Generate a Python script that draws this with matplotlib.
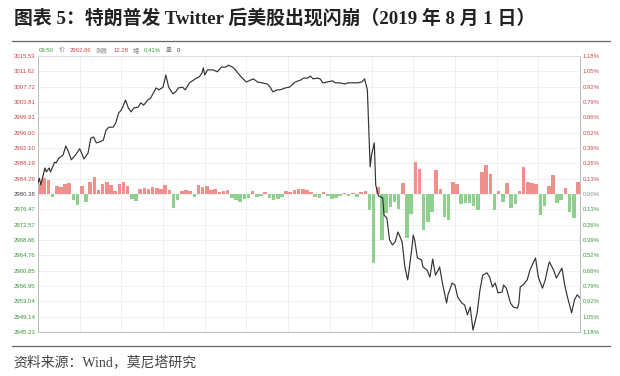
import matplotlib.pyplot as plt

plt.rcParams['font.family'] = ['Noto Sans CJK SC', 'DejaVu Sans']

title = '图表 5：特朗普发 Twitter 后美股出现闪崩（2019 年 8 月 1 日）'
source = '资料来源：Wind，莫尼塔研究'

prev_close = 2980.38
y_ticks = [3015.53, 3011.62, 3007.72, 3003.81, 2999.91, 2996.00, 2992.10, 2988.19,
           2984.29, 2980.38, 2976.47, 2972.57, 2968.66, 2964.76, 2960.85, 2956.95,
           2953.04, 2949.14, 2945.23]
pct_labels = ['1.18%', '1.05%', '0.92%', '0.79%', '0.66%', '0.52%', '0.39%', '0.26%',
              '0.13%', '0.00%', '0.13%', '0.26%', '0.39%', '0.52%', '0.66%', '0.79%',
              '0.92%', '1.05%', '1.18%']

# header: (text, colour)
header = [('09:50', '#3c963c'), ('价', '#888888'), ('2992.66', '#c84848'),
          ('涨跌', '#888888'), ('12.28', '#c84848'), ('幅', '#888888'),
          ('0.41%', '#3c963c'), ('量', '#888888'), ('0', '#333333')]

# minutes after 09:30 and index level
minutes = [0, 1, 2, 5, 6, 8, 9, 12, 13, 15, 18, 20, 22, 24, 27, 30, 32, 33, 36, 38,
           40, 42, 44, 47, 49, 51, 54, 56, 58, 60, 63, 65, 67, 69, 72, 74, 76, 79, 81, 83,
           85, 87, 90, 92, 94, 97, 99, 101, 104, 106, 109, 112, 114, 116, 118, 119, 120, 122, 126, 129,
           132, 135, 137, 140, 142, 145, 147, 150, 153, 155, 158, 161, 165, 167, 169, 172, 174, 178, 181, 185,
           189, 191, 194, 196, 198, 201, 203, 205, 208, 212, 214, 217, 221, 223, 227, 230, 233, 235, 237, 238,
           239, 240, 242, 243, 245, 248, 249, 251, 253, 255, 257, 259, 260, 262, 264, 266, 267, 269, 270, 271,
           273, 276, 277, 280, 282, 284, 286, 288, 289, 291, 294, 295, 298, 300, 302, 305, 307, 309, 311, 313,
           316, 318, 320, 323, 325, 327, 329, 331, 334, 335, 337, 340, 342, 345, 346, 347, 349, 352, 354, 355,
           358, 360, 363, 365, 367, 368, 371, 373, 377, 379, 381, 384, 386, 388, 390]
prices = [2983.2, 2984.4, 2982.7, 2987.0, 2986.0, 2987.0, 2986.0, 2988.5, 2988.3, 2989.5,
          2990.3, 2992.6, 2991.1, 2989.1, 2990.3, 2991.9, 2990.3, 2989.3, 2990.8, 2994.6,
          2994.9, 2993.4, 2993.6, 2994.1, 2996.7, 2997.4, 2997.4, 2998.5, 3001.0, 3001.8,
          3004.3, 3002.3, 3001.3, 3002.3, 3002.5, 3003.6, 3003.0, 3004.3, 3004.8, 3006.1,
          3007.4, 3006.9, 3007.6, 3010.7, 3007.6, 3005.9, 3006.4, 3007.4, 3007.6, 3006.9,
          3008.7, 3009.4, 3009.9, 3010.2, 3011.2, 3012.5, 3010.7, 3012.0, 3012.0, 3011.5,
          3012.7, 3012.7, 3013.2, 3012.7, 3012.0, 3010.7, 3009.9, 3008.9, 3009.4, 3009.7,
          3008.9, 3008.7, 3008.4, 3007.6, 3006.4, 3006.9, 3006.9, 3007.4, 3007.6, 3008.9,
          3009.4, 3009.9, 3009.9, 3010.4, 3009.7, 3009.9, 3009.7, 3008.7, 3008.9, 3009.2,
          3008.7, 3008.7, 3008.4, 3008.7, 3008.7, 3008.7, 3008.9, 3009.7, 3006.9, 2996.7,
          2987.3, 2990.3, 2993.4, 2982.7, 2979.9, 2979.4, 2975.0, 2974.3, 2968.7, 2967.4,
          2968.2, 2970.7, 2969.9, 2968.2, 2961.8, 2958.5, 2961.0, 2966.6, 2969.9, 2968.7,
          2964.1, 2963.6, 2961.8, 2961.0, 2959.2, 2963.8, 2959.7, 2961.0, 2961.8, 2957.7,
          2952.6, 2954.7, 2957.7, 2957.2, 2954.1, 2952.6, 2952.1, 2949.6, 2951.6, 2945.7,
          2950.1, 2955.9, 2959.7, 2960.3, 2959.2, 2956.7, 2957.7, 2955.2, 2955.4, 2957.2,
          2956.4, 2952.6, 2951.6, 2951.3, 2952.6, 2956.7, 2957.2, 2958.5, 2961.0, 2961.8,
          2964.1, 2959.2, 2956.4, 2958.5, 2961.8, 2963.1, 2961.0, 2959.0, 2961.5, 2957.2,
          2954.1, 2950.1, 2953.4, 2954.7, 2953.9]

# bars every 3 minutes, index points above/below previous close
bar_minutes = 3
bar_vals = [2.6, 4.1, 3.6, -0.8, 2.0, 1.8, 2.6, 2.8, -1.5, -2.8, 2.0, -2.0, 3.1, 4.3, 1.0,
            2.6, 3.1, 2.3, 0.8, 2.6, 3.1, 2.0, -1.3, -1.8, 1.3, 1.5, 1.3, 1.8, 1.5, 1.3,
            2.3, 1.0, -3.6, -1.5, 0.8, 1.0, 0.8, -0.8, 2.3,
            1.8, 2.0, 1.0, 1.3, 0.5, 0.8, 1.0, -1.0, -1.5, -2.0, -1.3, -1.0, 0.8, -0.8, -0.5,
            0.5, -1.0, -1.5, -1.3, -0.8, 0.8, 0.5, 1.0, 1.3, 1.3, 1.0, 0.5, -0.8, -1.0, 0.5,
            -0.5, -1.3, -1.0, -0.5, 0.3, -0.5, 0.3, -0.8, 0.5, 0.8,
            -4.1, -17.6, 1.8, -11.7, -4.8, -3.3, -2.0, -3.8, 2.8, -11.2, -5.1, 8.2, 6.4, -9.2,
            -7.1, -4.6, 6.1, 1.3, -5.9, -6.6, 3.1, 2.6, -2.6, -2.3, -2.3, -3.1, -4.1, 5.6,
            7.4, 5.1, -4.1, 0.8, -2.0, 2.8, -3.6, -2.6, 0.8, 6.9, 3.1, 2.8, 2.6, -5.4, -3.1,
            2.0, 4.8, -2.3, -1.5, 1.5, -4.6, -6.1, 3.1]

red_lbl = '#c84848'
green_lbl = '#3c963c'
mixed = ['Liberation Sans', 'Noto Sans CJK SC']

fig = plt.figure(figsize=(6.2, 3.76), dpi=100)
ax = fig.add_axes([38 / 620, 44 / 376, 542 / 620, 276 / 376])

bar_x = [bar_minutes * i + bar_minutes / 2 for i in range(len(bar_vals))]
bar_col = ['#f0908c' if v > 0 else '#8fd08f' for v in bar_vals]
ax.bar(bar_x, bar_vals, width=bar_minutes * 0.85, bottom=prev_close, color=bar_col, lw=0, zorder=2)
ax.plot(minutes, prices, color='#333333', lw=0.85, zorder=3)

ax.set_xlim(0, 390)
ax.set_ylim(y_ticks[-1], y_ticks[0])
ax.set_xticks(range(30, 390, 30))
ax.set_xticklabels([])
ax.set_yticks(y_ticks)
ax.set_yticklabels(['%.2f' % v for v in y_ticks], family='Liberation Sans', fontsize=4.3)
ax.tick_params(length=0, pad=2)
ax.grid(True, color='#eeeeee', lw=0.6, zorder=0)
for lbl, v in zip(ax.get_yticklabels(), y_ticks):
    lbl.set_color(red_lbl if v > prev_close else (green_lbl if v < prev_close else '#444444'))
for side in ['left', 'right', 'bottom']:
    ax.spines[side].set_color('#bbbbbb')
    ax.spines[side].set_linewidth(0.7)
ax.spines['top'].set_color('#dddddd')
ax.spines['top'].set_linewidth(0.7)

ax2 = ax.twinx()
ax2.set_ylim(ax.get_ylim())
ax2.set_yticks(y_ticks)
ax2.set_yticklabels(pct_labels, family='Liberation Sans', fontsize=4.3)
ax2.tick_params(length=0, pad=2)
for lbl, v in zip(ax2.get_yticklabels(), y_ticks):
    lbl.set_color(red_lbl if v > prev_close else (green_lbl if v < prev_close else '#888888'))
for s in ax2.spines.values():
    s.set_visible(False)

# header line above the plot, each piece placed after the previous one
prev = fig.text(39 / 620, 1 - 50 / 376, header[0][0], color=header[0][1], fontsize=4.3,
                va='center', family=mixed)
for txt, col in header[1:]:
    prev = fig.add_artist(plt.Annotation(txt, xy=(1, 0.5), xycoords=prev, xytext=(3.5, 0),
                                         textcoords='offset points', color=col, fontsize=4.3,
                                         va='center', ha='left', family=mixed,
                                         annotation_clip=False))

fig.text(14 / 620, 1 - 18 / 376, title, fontsize=13.6, fontweight='bold', va='center',
         family=['Liberation Serif', 'Noto Sans CJK SC'], color='#222222')
fig.add_artist(plt.Line2D([12 / 620, 610 / 620], [1 - 41 / 376, 1 - 41 / 376],
                          color='#666666', lw=0.9))
fig.add_artist(plt.Line2D([12 / 620, 610 / 620], [1 - 346 / 376, 1 - 346 / 376],
                          color='#666666', lw=0.9))
fig.text(13 / 620, 1 - 362 / 376, source, fontsize=10, va='center', color='#444444',
         family=['Liberation Serif', 'Noto Sans CJK SC'])

fig.savefig('out.png', dpi=100)
